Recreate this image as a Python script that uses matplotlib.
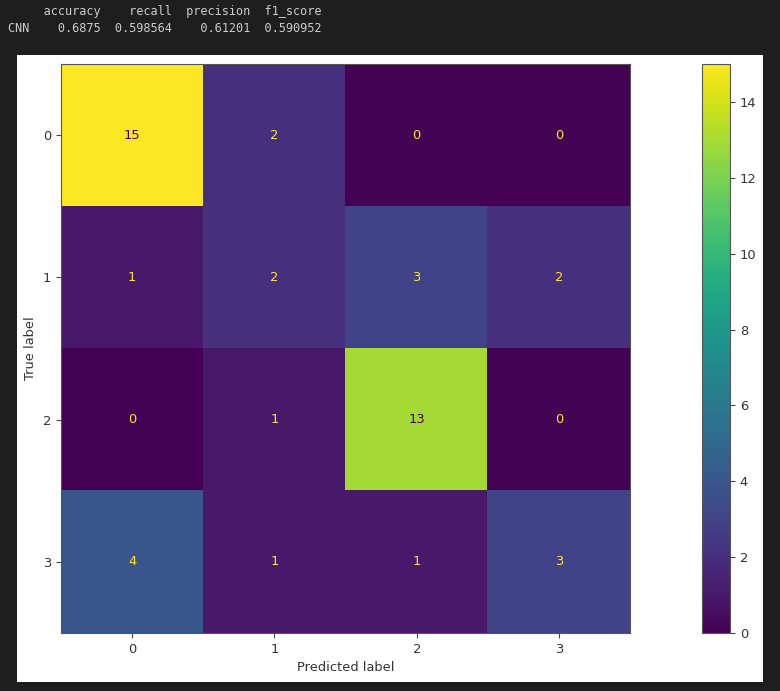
import matplotlib
matplotlib.use("Agg")
import matplotlib.pyplot as plt
from matplotlib.patches import Rectangle
import numpy as np

classes = ["0", "1", "2", "3"]
cm = np.array([
    [15, 2, 0, 0],
    [1, 2, 3, 2],
    [0, 1, 13, 0],
    [4, 1, 1, 3],
])
metric_names = ["accuracy", "recall", "precision", "f1_score"]
metric_values = ["0.6875", "0.598564", "0.61201", "0.590952"]
model_name = "CNN"

W, H = 780, 691
fig = plt.figure(figsize=(W / 100, H / 100), dpi=100)
fig.patch.set_facecolor("#1e1e1e")

def fx(px):
    return px / W

def fy(py):
    return 1 - py / H

txt = "#333333"
fs = 9.4

# white figure panel
fig.patches.append(Rectangle((fx(17), fy(682)), fx(763) - fx(17), fy(55) - fy(682),
                             transform=fig.transFigure, facecolor="white",
                             edgecolor="none", zorder=-5))

# pandas-like printed output
widths = [max(len(n), len(v)) for n, v in zip(metric_names, metric_values)]
hdr = " " * len(model_name) + "".join("  " + n.rjust(w) for n, w in zip(metric_names, widths))
row = model_name + "".join("  " + v.rjust(w) for v, w in zip(metric_values, widths))
fig.text(fx(8), fy(11), hdr, family="DejaVu Sans Mono", fontsize=8.6,
         color="#cccccc", va="center", ha="left")
fig.text(fx(8), fy(29), row, family="DejaVu Sans Mono", fontsize=8.6,
         color="#cccccc", va="center", ha="left")

ax = fig.add_axes([fx(61), fy(633), fx(630) - fx(61), fy(64) - fy(633)])
cax = fig.add_axes([fx(702), fy(633), fx(730) - fx(702), fy(64) - fy(633)])

cmap = plt.get_cmap("viridis")
im = ax.imshow(cm, cmap=cmap, interpolation="nearest", aspect="auto")
vmin, vmax = cm.min(), cm.max()
thresh = (vmax + vmin) / 2.0
for i in range(cm.shape[0]):
    for j in range(cm.shape[1]):
        color = cmap(0) if cm[i, j] >= thresh else cmap(1.0)
        ax.text(j, i, str(cm[i, j]), ha="center", va="center", color=color, fontsize=fs)

ax.set_xticks(range(len(classes)))
ax.set_xticklabels(classes)
ax.set_yticks(range(len(classes)))
ax.set_yticklabels(classes)
ax.tick_params(labelsize=fs, labelcolor=txt, color="#444444")
ax.set_xlabel("Predicted label", fontsize=fs, color=txt)
ax.set_ylabel("True label", fontsize=fs, color=txt)
for s in ax.spines.values():
    s.set_color("#555555")

cb = fig.colorbar(im, cax=cax)
cb.set_ticks([0, 2, 4, 6, 8, 10, 12, 14])
cb.ax.tick_params(labelsize=fs, labelcolor=txt, color="#444444")
cb.outline.set_edgecolor("#555555")

fig.savefig("out.png", dpi=100, facecolor=fig.get_facecolor())
